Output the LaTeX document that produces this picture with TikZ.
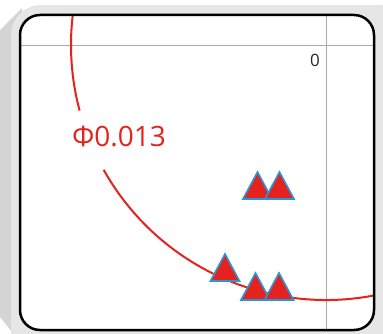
\documentclass[tikz,border=0pt]{standalone}
\usepackage{fontspec}
\setmainfont{Open Sans}
\definecolor{myred}{RGB}{228,35,30}
\definecolor{myblue}{RGB}{40,150,215}
\definecolor{lgray}{RGB}{230,230,230}
\definecolor{dgray}{RGB}{212,212,212}
\definecolor{axgray}{RGB}{170,170,170}
\newcommand\mymarker[2]{\draw[marker] (#1,#2) ++(-14.5,0) -- ++(14.5,27) -- ++(14.5,-27) -- cycle;}
\begin{document}
\begin{tikzpicture}[x=1pt,y=1pt,
  marker/.style={fill=myred,draw=myblue,line width=1.6pt,line join=miter},
  axis/.style={axgray,line width=1pt},
  circ/.style={myred,line width=2pt},
  frame/.style={black,line width=2.5pt,rounded corners=20pt}]
\useasboundingbox (0,0) rectangle (383,333);
% shadow and outer band
\fill[dgray] (0,303) -- (22,325) -- (22,0) -- (13,0) -- (0,16) -- cycle;
\fill[lgray,rounded corners=30pt] (11,-30) rectangle (410,328);
\coordinate (O) at (326,288);
\begin{scope}
  \clip[rounded corners=20pt] (20,3) rectangle (374,318);
  \fill[white] (0,0) rectangle (383,333);
  \draw[axis] (0,288) -- (383,288);
  \draw[axis] (326,0) -- (326,333);
  \draw[circ] (O) ++(170:255) arc[start angle=170,end angle=194.9,radius=255];
  \draw[circ] (O) ++(209.3:255) arc[start angle=209.3,end angle=290,radius=255];
\end{scope}
\draw[frame] (20,3) rectangle (374,318);
\node[text=myred,font=\fontsize{28}{28}\selectfont,inner sep=0pt] (phi) at (119,196.5) {Φ0.013};
\node[text=black!85,font=\fontsize{17}{17}\selectfont,inner sep=0pt] (zero) at (315,273) {0};
\mymarker{257.5}{134}
\mymarker{279.5}{134}
\mymarker{225}{52}
\mymarker{255.5}{33}
\mymarker{279}{33}
\end{tikzpicture}
\end{document}
